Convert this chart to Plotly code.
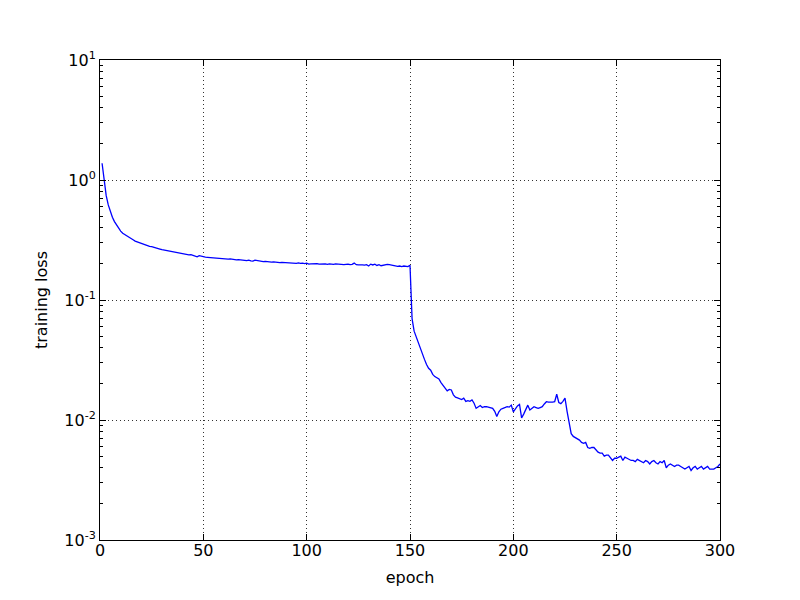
import plotly.graph_objects as go

# training loss per epoch
epochs = list(range(1, 301))
loss = [
    1.38, 0.95, 0.74, 0.62, 0.54, 0.49, 0.45, 0.42, 0.395, 0.375,
    0.36, 0.35, 0.34, 0.332, 0.325, 0.318, 0.31, 0.305, 0.302, 0.298,
    0.295, 0.29, 0.284, 0.28, 0.278, 0.274, 0.271, 0.268, 0.266, 0.263,
    0.261, 0.258, 0.256, 0.255, 0.252, 0.25, 0.249, 0.246, 0.245, 0.243,
    0.242, 0.24, 0.238, 0.239, 0.235, 0.234, 0.229, 0.234, 0.231, 0.229,
    0.228, 0.227, 0.226, 0.228, 0.224, 0.223, 0.224, 0.221, 0.222, 0.22,
    0.221, 0.219, 0.22, 0.218, 0.219, 0.216, 0.217, 0.215, 0.216, 0.214,
    0.213, 0.215, 0.212, 0.211, 0.215, 0.213, 0.21, 0.211, 0.209, 0.21,
    0.208, 0.209, 0.207, 0.208, 0.206, 0.207, 0.205, 0.206, 0.205, 0.204,
    0.205, 0.203, 0.204, 0.203, 0.202, 0.204, 0.202, 0.203, 0.201, 0.203,
    0.199, 0.2, 0.201, 0.2, 0.201, 0.199, 0.2, 0.201, 0.2, 0.198,
    0.2, 0.199, 0.198, 0.2, 0.199, 0.198, 0.199, 0.197, 0.198, 0.199,
    0.197, 0.198, 0.203, 0.197, 0.196, 0.197, 0.196, 0.195, 0.197, 0.192,
    0.199, 0.196, 0.199, 0.194, 0.197, 0.193, 0.195, 0.196, 0.198, 0.197,
    0.195, 0.194, 0.193, 0.191, 0.192, 0.19, 0.192, 0.191, 0.19, 0.195,
    0.07, 0.055, 0.049, 0.044, 0.039, 0.035, 0.032, 0.029, 0.027, 0.026,
    0.024, 0.023, 0.0225, 0.022, 0.0205, 0.0195, 0.0185, 0.0175, 0.018, 0.0178,
    0.0162, 0.0155, 0.0153, 0.015, 0.0148, 0.0152, 0.0143, 0.0145, 0.0143, 0.0147,
    0.0138, 0.0125, 0.0128, 0.0132, 0.0127, 0.0129, 0.0129, 0.0127, 0.0126, 0.0125,
    0.0118, 0.0107, 0.0117, 0.0123, 0.0125, 0.0128, 0.0129, 0.0128, 0.0133, 0.0117,
    0.0125, 0.0131, 0.0135, 0.0104, 0.0112, 0.0122, 0.0133, 0.0121, 0.0124, 0.0129,
    0.0127, 0.0125, 0.0127, 0.0129, 0.0136, 0.0142, 0.0141, 0.014, 0.0141, 0.0142,
    0.0164, 0.014, 0.0137, 0.0143, 0.0152, 0.0118, 0.0092, 0.0077, 0.0073, 0.0071,
    0.007, 0.0068, 0.0065, 0.0064, 0.0065, 0.0059, 0.0058, 0.0059, 0.0059, 0.0056,
    0.0054, 0.0053, 0.0053, 0.005, 0.0051, 0.0051, 0.0048, 0.0046, 0.0048, 0.0048,
    0.0049, 0.005, 0.0046, 0.0049, 0.0048, 0.0047, 0.0046, 0.0046, 0.0045, 0.0047,
    0.0046, 0.0045, 0.0044, 0.0046, 0.0045, 0.0043, 0.0045, 0.0046, 0.0044, 0.0043,
    0.0045, 0.0044, 0.0046, 0.004, 0.0042, 0.0043, 0.0042, 0.0041, 0.0042, 0.0042,
    0.0041, 0.004, 0.0039, 0.004, 0.0041, 0.0038, 0.004, 0.0041, 0.0039, 0.004,
    0.0041, 0.0039, 0.004, 0.0041, 0.0039, 0.0039, 0.0039, 0.004, 0.0041, 0.0043,
]

y_ticks = [1e-3, 1e-2, 1e-1, 1e0, 1e1]
y_labels = ['10<sup>-3</sup>', '10<sup>-2</sup>', '10<sup>-1</sup>', '10<sup>0</sup>', '10<sup>1</sup>']
x_ticks = [0, 50, 100, 150, 200, 250, 300]

# minor ticks 2..9 of each decade
minor_vals = [m * 10 ** d for d in range(-3, 1) for m in range(2, 10)]

fig = go.Figure()
fig.add_trace(go.Scatter(x=epochs, y=loss, mode='lines',
                         line=dict(color='#0000ff', width=1.3), showlegend=False))

axis_style = dict(showline=True, linecolor='black', linewidth=1, mirror='ticks',
                  ticks='inside', ticklen=6, tickcolor='black',
                  showgrid=True, gridcolor='#333333', gridwidth=1, griddash='1px,3px',
                  zeroline=False, tickfont=dict(size=16, color='black'))

fig.update_xaxes(range=[0, 300], tickvals=x_ticks, ticklabelstandoff=-4,
                 title=dict(text='epoch', font=dict(size=16), standoff=12),
                 **axis_style)
fig.update_yaxes(type='log', range=[-3, 1], tickvals=y_ticks, ticktext=y_labels,
                 title=dict(text='training loss', font=dict(size=16), standoff=12),
                 minor=dict(tickvals=minor_vals, ticks='inside', ticklen=3, tickcolor='black', showgrid=False),
                 **axis_style)

# the page body adds 8px, so margins are shifted to keep the frame at 100..720 x 60..540
fig.update_layout(width=800, height=600,
                  margin=dict(l=92, r=88, t=52, b=68),
                  plot_bgcolor='white', paper_bgcolor='white',
                  font=dict(family='DejaVu Sans', color='black'))

fig.write_html("out.html")
